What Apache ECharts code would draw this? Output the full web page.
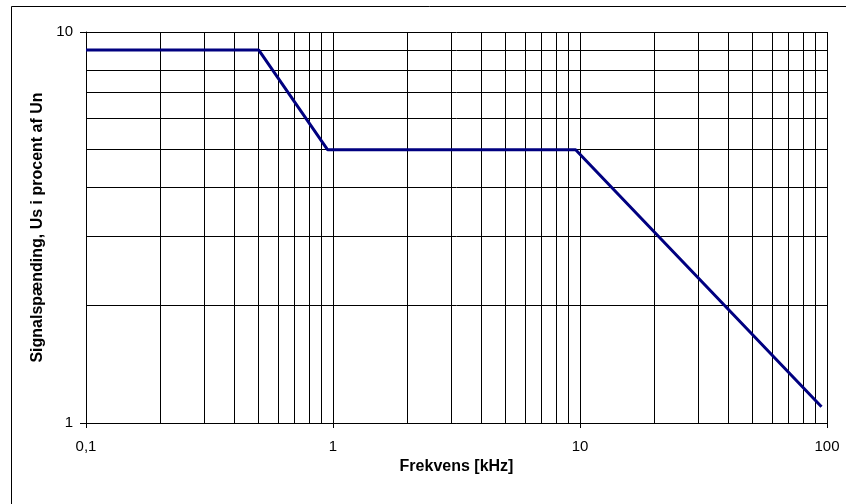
<!DOCTYPE html>
<html>
<head>
<meta charset="utf-8">
<script src="https://cdn.jsdelivr.net/npm/echarts@6/dist/echarts.min.js"></script>
<style>html,body{margin:0;padding:0;background:#fff}#c{width:846px;height:504px}</style>
</head>
<body>
<div id="c"></div>
<script>
var freq = [0.1, 0.5, 0.95, 9.6, 95];
var level = [9, 9, 5, 5, 1.1];
var minorX = [0.2,0.3,0.4,0.5,0.6,0.7,0.8,0.9,2,3,4,5,6,7,8,9,20,30,40,50,60,70,80,90];
var minorY = [2,3,4,5,6,7,8,9];
var xTitle = 'Frekvens [kHz]';
var yTitle = 'Signalspænding, Us i procent af Un';

var chart = echarts.init(document.getElementById('c'), null, {renderer:'canvas'});
var font = 'Arial, "Liberation Sans", sans-serif';
var gridLines = minorX.map(function(v){return {xAxis:v};}).concat(minorY.map(function(v){return {yAxis:v};}));
chart.setOption({
  animation:false,
  backgroundColor:'#fff',
  graphic:[{type:'rect',left:9,top:4,shape:{width:1000,height:1000},style:{fill:'none',stroke:'#000',lineWidth:1},silent:true,z:-1}],
  grid:{left:86,right:19,top:32,bottom:81},
  xAxis:{type:'log',logBase:10,min:0.1,max:100,
    name:xTitle,nameLocation:'middle',nameGap:36,
    nameTextStyle:{fontFamily:font,fontWeight:'bold',fontSize:16,color:'#000'},
    axisLine:{lineStyle:{color:'#000',width:1}},
    axisTick:{show:true,length:5,lineStyle:{color:'#000'}},
    axisLabel:{fontFamily:font,fontSize:15,color:'#000',margin:16,formatter:function(v){return String(v).replace('.',',');}},
    splitLine:{show:true,lineStyle:{color:'#000',width:1}}},
  yAxis:{type:'log',logBase:10,min:1,max:10,
    name:yTitle,nameLocation:'middle',nameGap:40,nameRotate:90,
    nameTextStyle:{fontFamily:font,fontWeight:'bold',fontSize:16,color:'#000'},
    axisLine:{lineStyle:{color:'#000',width:1}},
    axisTick:{show:true,length:6,lineStyle:{color:'#000'}},
    axisLabel:{fontFamily:font,fontSize:15,color:'#000',margin:13,formatter:function(v){return String(v).replace('.',',');}},
    splitLine:{show:true,lineStyle:{color:'#000',width:1}}},
  series:[{type:'line',data:freq.map(function(f,i){return [f,level[i]];}),
    symbol:'none',lineStyle:{color:'#000080',width:3},z:5,
    markLine:{silent:true,symbol:'none',label:{show:false},animation:false,
      lineStyle:{color:'#000',width:1,type:'solid'},data:gridLines,z:1}}]
});
</script>
</body>
</html>
